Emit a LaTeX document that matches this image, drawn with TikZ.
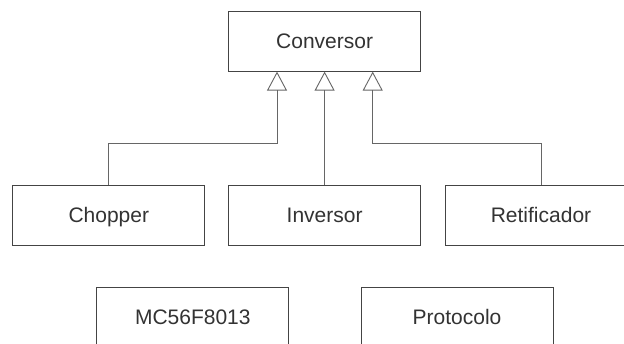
\documentclass[tikz,border=0pt]{standalone}
\usepackage{fontspec}
\setmainfont{Liberation Sans}
\usetikzlibrary{arrows.meta}
\definecolor{txt}{HTML}{333333}
\definecolor{edge}{HTML}{444444}
\definecolor{wire}{HTML}{666666}
\tikzset{
  classbox/.style={draw=edge, line width=0.9pt, minimum width=192pt, minimum height=60pt,
    inner sep=0pt, text height=15pt, text depth=0pt, text=txt,
    font=\fontsize{21}{24}\selectfont},
  inherit/.style={draw=wire, line width=0.9pt,
    -{Triangle[open, width=20pt, length=19pt, line width=0.9pt]}},
}
\begin{document}
\begin{tikzpicture}[x=1pt, y=1pt]
  \useasboundingbox (0,0) rectangle (624,344);
  \fill[white] (0,0) rectangle (624,344);

  % classes
  \node[classbox] (conv) at (324.6,302.8) {Conversor};
  \node[classbox] (chop) at (108.8,129) {Chopper};
  \node[classbox] (inv)  at (324.6,129) {Inversor};
  \node[classbox] (ret)  at (541,129) {Retificador};
  \node[classbox] (mc)   at (192.8,26.7) {MC56F8013};
  \node[classbox] (prot) at (457,26.7) {Protocolo};

  % attachment points under the base class and the shared bend level
  \coordinate (cl) at ([xshift=-47.6pt]conv.south);
  \coordinate (cr) at ([xshift=48.1pt]conv.south);
  \coordinate (bend) at (0,200.7);

  % generalisation connectors
  \draw[inherit] (chop.north) -- (chop.north |- bend) -- (cl |- bend) -- (cl);
  \draw[inherit] (inv.north) -- (inv.north |- conv.south);
  \draw[inherit] (ret.north) -- (ret.north |- bend) -- (cr |- bend) -- (cr);
\end{tikzpicture}
\end{document}
